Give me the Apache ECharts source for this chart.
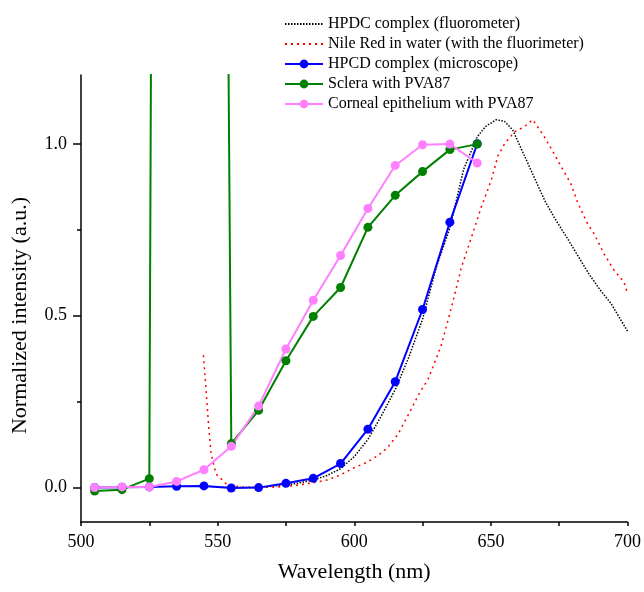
<!DOCTYPE html>
<html>
<head>
<meta charset="utf-8">
<script src="https://cdn.jsdelivr.net/npm/echarts@6/dist/echarts.min.js"></script>
<style>html,body{margin:0;padding:0;background:#fff;}#chart{width:644px;height:592px;}</style>
</head>
<body>
<div id="chart"></div>
<script>
// ---- data ----
const seriesNames = [
  'HPDC complex (fluorometer)',
  'Nile Red in water (with the fluorimeter)',
  'HPCD complex (microscope)',
  'Sclera with PVA87',
  'Corneal epithelium with PVA87'
];
const xTicks = [500, 550, 600, 650, 700];
const yTicks = [0.0, 0.5, 1.0];
const yMinorTicks = [0.25, 0.75];

const hpdcX = [545, 550, 555, 560, 565, 570, 575, 580, 585, 590, 595, 600, 605, 610, 615, 620, 625, 630, 635, 640, 645, 648, 652, 655, 658, 662, 666, 670, 674, 678, 682, 686, 690, 694, 697, 700];
const hpdcY = [0.004, 0.002, 0.0, 0.0, 0.001, 0.004, 0.008, 0.014, 0.022, 0.035, 0.055, 0.09, 0.14, 0.21, 0.285, 0.38, 0.49, 0.64, 0.755, 0.925, 1.02, 1.05, 1.07, 1.065, 1.04, 0.97, 0.9, 0.83, 0.775, 0.725, 0.672, 0.62, 0.575, 0.535, 0.495, 0.455];

const nileX = [544.8, 545.8, 546.7, 547.6, 549.4, 553, 558, 565, 572, 578, 584, 590, 595, 600, 605, 609, 612, 616, 620, 623.5, 627, 631.7, 635.6, 639.2, 642.9, 646.5, 650.1, 652.6, 655, 658.7, 662.3, 665.3, 667.2, 669.6, 673.2, 676.9, 679.3, 681.7, 685.4, 687.8, 691.4, 695.1, 698.7, 700];
const nileY = [0.385, 0.28, 0.18, 0.1, 0.04, 0.012, 0.002, 0.0, 0.002, 0.006, 0.013, 0.022, 0.037, 0.058, 0.075, 0.095, 0.115, 0.155, 0.215, 0.27, 0.315, 0.41, 0.525, 0.64, 0.728, 0.816, 0.893, 0.965, 1.0, 1.035, 1.05, 1.07, 1.048, 1.02, 0.97, 0.917, 0.884, 0.83, 0.767, 0.738, 0.68, 0.632, 0.598, 0.565];

const pointX = [505, 515, 525, 535, 545, 555, 565, 575, 585, 595, 605, 615, 625, 635, 645];
const hpcdY = [0.0, 0.001, 0.002, 0.004, 0.005, -0.001, 0.0, 0.0125, 0.027, 0.07, 0.17, 0.308, 0.518, 0.772, 1.0];
const scleraY = [-0.01, -0.006, 0.026, 20, 11, 0.128, 0.225, 0.369, 0.498, 0.582, 0.757, 0.85, 0.919, 0.983, 0.999];
const corneaY = [0.0, 0.002, 0.002, 0.018, 0.052, 0.12, 0.237, 0.403, 0.545, 0.675, 0.812, 0.937, 0.997, 0.999, 0.944];

// ---- chart ----
const FONT = 'Liberation Serif';
const pair = (xs, ys) => xs.map((x, i) => [x, ys[i]]);
const chart = echarts.init(document.getElementById('chart'), null, {renderer: 'canvas'});

function lineSeries(name, xs, ys, color, withSymbol, dash) {
  return {
    name: name,
    type: 'line',
    data: pair(xs, ys),
    clip: true,
    symbol: withSymbol ? 'circle' : 'none',
    symbolSize: 9,
    showSymbol: withSymbol,
    lineStyle: {color: color, width: withSymbol ? 2 : 1.5, type: dash || 'solid'},
    itemStyle: {color: color},
    emphasis: {disabled: true}
  };
}

const option = {
  animation: false,
  backgroundColor: '#fff',
  grid: {left: 81, right: 14, top: 75, bottom: 70},
  legend: {
    orient: 'vertical',
    left: 279,
    top: 11,
    itemWidth: 38,
    itemHeight: 11,
    itemGap: 4,
    textStyle: {fontFamily: FONT, fontSize: 16, color: '#000', lineHeight: 16},
    data: [
      {name: seriesNames[0], itemStyle: {opacity: 0}},
      {name: seriesNames[1], itemStyle: {opacity: 0}},
      seriesNames[2], seriesNames[3], seriesNames[4]
    ]
  },
  xAxis: {
    type: 'value', min: 500, max: 700, interval: 50,
    name: 'Wavelength (nm)', nameLocation: 'middle', nameGap: 39,
    nameTextStyle: {fontFamily: FONT, fontSize: 22, color: '#000'},
    axisLine: {onZero: false, lineStyle: {color: '#000', width: 1.5}},
    axisTick: {length: 4, lineStyle: {color: '#000', width: 1.5}},
    minorTick: {show: true, splitNumber: 2, length: 4, lineStyle: {color: '#000', width: 1.5}},
    axisLabel: {fontFamily: FONT, fontSize: 18, color: '#000', margin: 11, customValues: xTicks},
    splitLine: {show: false}
  },
  yAxis: [{
    type: 'value', min: -0.1, max: 1.2,
    name: 'Normalized intensity (a.u.)', nameLocation: 'middle', nameGap: 50,
    nameTextStyle: {fontFamily: FONT, fontSize: 22, color: '#000', padding: [0, 34, 0, 0]},
    axisLine: {show: true, onZero: false, lineStyle: {color: '#000', width: 1.5}},
    axisTick: {show: true, length: 8, customValues: yTicks, lineStyle: {color: '#000', width: 1.5}},
    axisLabel: {fontFamily: FONT, fontSize: 18, color: '#000', margin: 14, customValues: yTicks,
      formatter: v => Number(v).toFixed(1)},
    splitLine: {show: false}
  }, {
    type: 'value', min: -0.1, max: 1.2, position: 'left', offset: 0,
    axisLine: {show: false},
    axisTick: {show: true, length: 4, customValues: yMinorTicks, lineStyle: {color: '#000', width: 1.5}},
    axisLabel: {show: false},
    splitLine: {show: false}
  }],
  series: [
    lineSeries(seriesNames[0], hpdcX, hpdcY, '#000000', false, [1.5, 1.5]),
    lineSeries(seriesNames[1], nileX, nileY, '#ff0000', false, [2, 4]),
    lineSeries(seriesNames[2], pointX, hpcdY, '#0000ff', true),
    lineSeries(seriesNames[3], pointX, scleraY, '#008000', true),
    lineSeries(seriesNames[4], pointX, corneaY, '#ff80ff', true)
  ]
};
chart.setOption(option);
</script>
</body>
</html>
